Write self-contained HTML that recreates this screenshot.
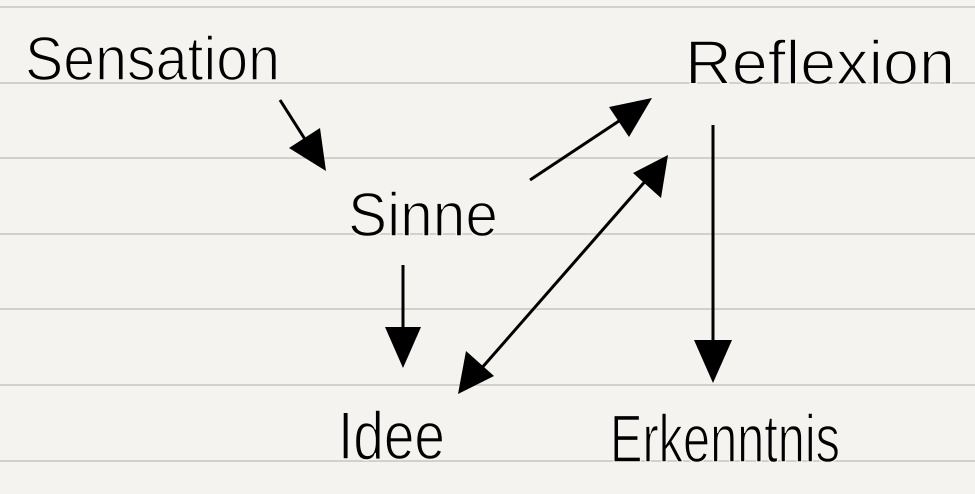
<!DOCTYPE html>
<html><head><meta charset="utf-8"><style>
html,body{margin:0;padding:0;background:#f4f3ef;}
svg{display:block}
</style></head><body>
<svg width="975" height="494" viewBox="0 0 975 494" xmlns="http://www.w3.org/2000/svg">
<rect width="975" height="494" fill="#f4f3ef"/>
<g stroke="#d2d0cb" stroke-width="2">
<line x1="0" y1="7" x2="975" y2="7"/>
<line x1="0" y1="83" x2="975" y2="83"/>
<line x1="0" y1="158" x2="975" y2="158"/>
<line x1="0" y1="234" x2="975" y2="234"/>
<line x1="0" y1="309" x2="975" y2="309"/>
<line x1="0" y1="385" x2="975" y2="385"/>
<line x1="0" y1="461" x2="975" y2="461"/>
</g>
<g font-family="'Liberation Sans', sans-serif" fill="#000" stroke="#f4f3ef" stroke-width="1.5" font-size="62">
<text x="25" y="80" textLength="255" lengthAdjust="spacingAndGlyphs">Sensation</text>
<text x="685" y="84" textLength="270" lengthAdjust="spacingAndGlyphs">Reflexion</text>
<text x="348" y="236" textLength="150" lengthAdjust="spacingAndGlyphs">Sinne</text>
<text x="338" y="459" font-size="68" textLength="107" lengthAdjust="spacingAndGlyphs">Idee</text>
<text x="610" y="462" font-size="68" textLength="230" lengthAdjust="spacingAndGlyphs">Erkenntnis</text>
</g>
<g stroke="#000" stroke-width="3" fill="none">
<line x1="280" y1="100" x2="308" y2="144"/>
<line x1="530" y1="180" x2="625" y2="117"/>
<line x1="713" y1="125" x2="713" y2="350"/>
<line x1="403" y1="265" x2="403" y2="335"/>
<line x1="480" y1="370" x2="648" y2="178"/>
</g>
<g fill="#000">
<polygon points="326,171 289,148 320,128"/>
<polygon points="652,98 629,137 609,107"/>
<polygon points="713,383 694,340 732,340"/>
<polygon points="403,368 385,327 421,327"/>
<polygon points="668,155 661,198 633,173"/>
<polygon points="458,394 466,351 494,376"/>
</g>
</svg>
</body></html>
